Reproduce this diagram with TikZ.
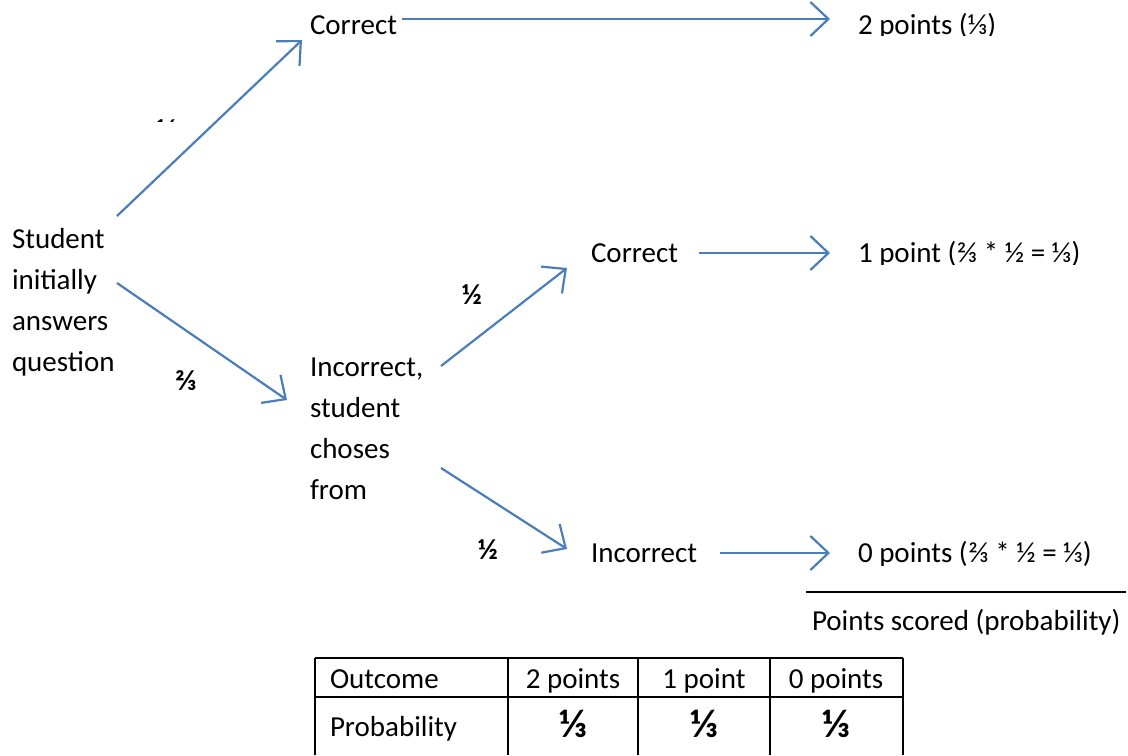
\documentclass[tikz,border=0pt]{standalone}
\usepackage{fontspec}
\setmainfont{Carlito}
\usetikzlibrary{arrows.meta}

\begin{document}
\begin{tikzpicture}[x=0.5pt,y=-0.5pt]
        \tikzstyle{every node}=[font=\fontsize{14.5}{20.5}\selectfont, inner sep=0pt, outer sep=0pt]
        \tikzstyle{branch}=[color={rgb,255:red,74; green,126; blue,187}, line width=1.1pt, -{Straight Barb[length=9pt,width=17pt]}]
        \tikzstyle{prob}=[font=\fontsize{14.5}{14.5}\selectfont\bfseries]
        \tikzstyle{bigprob}=[font=\fontsize{20}{20}\selectfont\bfseries]
        \useasboundingbox (0,0) rectangle (1128,755);
        % tree
        \node [anchor=north west, align=left] (student) at (12,228) {Student\\initially\\answers\\question};
        \node [anchor=base west] (correctA) at (310,34) {Correct};
        \node [anchor=north west, align=left] (incorrectA) at (310,358) {Incorrect,\\student\\choses\\from};
        \node [anchor=base west] (correctB) at (591,262) {Correct};
        \node [anchor=base west] (incorrectB) at (591,562) {Incorrect};
        \begin{scope}
            \clip (840,0) rectangle (1128,35);
            \node [anchor=base west] (pointsA) at (858,34) {2 points (⅓)};
        \end{scope}
        \begin{scope}
            \clip (840,230) rectangle (1128,264);
            \node [anchor=base west] (pointsB) at (858,262) {1 point (⅔ * ½ = ⅓)};
        \end{scope}
        \begin{scope}
            \clip (840,530) rectangle (1128,565);
            \node [anchor=base west] (pointsC) at (858,562) {0 points (⅔ * ½ = ⅓)};
        \end{scope}
        \begin{scope}
            \clip (140,100) rectangle (200,121);
            \node [prob] (pA) at (167,130) {⅓};
        \end{scope}
        \node [prob] (pB) at (186,381) {⅔};
        \node [prob] (pC) at (472,295) {½};
        \node [prob] (pD) at (488,550) {½};
        \draw [branch] ([shift={(105,-12)}]student.north west) -- ([shift={(-8,6)}]correctA.base west);
        \draw [branch] ([shift={(105,55)}]student.north west) -- ([shift={(-23,42)}]incorrectA.north west);
        \draw [branch] ([shift={(5,-15)}]correctA.base east) -- ([shift={(-28,-15)}]pointsA.base west);
        \draw [branch] ([shift={(131,8)}]incorrectA.north west) -- ([shift={(-24,6)}]correctB.base west);
        \draw [branch] ([shift={(131,110)}]incorrectA.north west) -- ([shift={(-24,-13)}]incorrectB.base west);
        \draw [branch] ([shift={(21,-9)}]correctB.base east) -- ([shift={(-28,-9)}]pointsB.base west);
        \draw [branch] ([shift={(23,-9)}]incorrectB.base east) -- ([shift={(-28,-9)}]pointsC.base west);
        % key
        \node [anchor=base west] (scored) at (812,630) {Points scored (probability)};
        \draw [line width=1pt] (806,592) -- (1126,592);
        % table
        \draw [line width=1pt] (315,658) -- (903,658);
        \draw [line width=1pt] (315,697) -- (903,697);
        \foreach \x in {315,508,638,770,903}
            \draw [line width=1pt] (\x,658) -- (\x,755);
        \node [anchor=base west] (outcome) at (330,688) {Outcome};
        \node [anchor=base west] (probability) at (330,736) {Probability};
        \node [anchor=base] (twoPts) at (573,688) {2 points};
        \node [anchor=base] (onePt) at (704,688) {1 point};
        \node [anchor=base] (zeroPts) at (836,688) {0 points};
        \node [bigprob] (twoProb) at (573,724) {⅓};
        \node [bigprob] (oneProb) at (704,724) {⅓};
        \node [bigprob] (zeroProb) at (836,724) {⅓};
    \end{tikzpicture}
\end{document}
